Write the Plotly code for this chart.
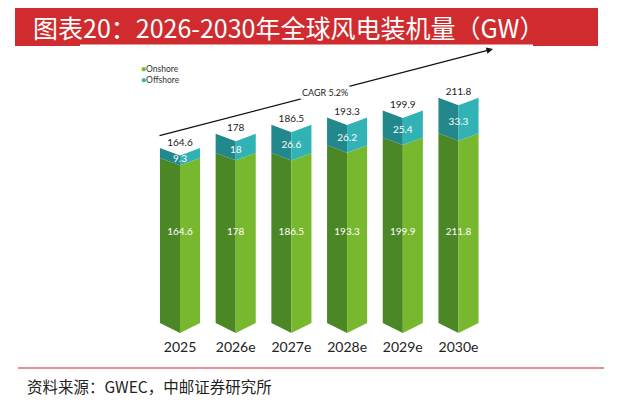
import plotly.graph_objects as go

# ---------------- data ----------------
years = ["2025", "2026e", "2027e", "2028e", "2029e", "2030e"]
total = [164.6, 178, 186.5, 193.3, 199.9, 211.8]
offshore = [9.3, 18, 26.6, 26.2, 25.4, 33.3]
onshore_label = [164.6, 178, 186.5, 193.3, 199.9, 211.8]
series_names = ["Onshore", "Offshore"]
cagr_text = "CAGR 5.2%"
title_text = "图表20：2026-2030年全球风电装机量（GW）"
source_text = "资料来源：GWEC，中邮证券研究所"

# ---------------- layout constants ----------------
WIN_W, WIN_H = 642, 405
OFF = 8                      # default page body margin
W, H = WIN_W - OFF, WIN_H - OFF
PX_PER_UNIT = 1.063
X0_PX, STEP_PX = 180, 55.7   # window pixels
BASE_PX = 323
PLOT_BOTTOM_PX = 337
HALF_W = 0.36
NOTCH_TOP = 7.0
NOTCH_BOT = 9.4

GREEN_D, GREEN_L = "#4c8726", "#77b82f"
TEAL_D, TEAL_L = "#22888b", "#31b3b5"
RED = "#d02b2e"
FONT_NUM = "Lato"
FONT_CJK = "Noto Sans CJK SC"

PLOT_H = PLOT_BOTTOM_PX - OFF


def pxx(px):
    return (px - OFF) / W


def pxy(py):
    return (PLOT_BOTTOM_PX - py) / PLOT_H


x_range = [(OFF - X0_PX) / STEP_PX, (WIN_W - X0_PX) / STEP_PX]
y_range = [(BASE_PX - PLOT_BOTTOM_PX) / PX_PER_UNIT, (BASE_PX - OFF) / PX_PER_UNIT]

fig = go.Figure()


def face(xs, ys, color):
    fig.add_trace(go.Scatter(x=xs, y=ys, mode="lines", fill="toself",
                             fillcolor=color, line=dict(width=0, color=color),
                             hoverinfo="skip", showlegend=False))


for i, (t, o) in enumerate(zip(total, offshore)):
    c = i
    on_top = t - o
    face([c - HALF_W, c, c, c - HALF_W, c - HALF_W],
         [0, -NOTCH_BOT, on_top - NOTCH_TOP, on_top, 0], GREEN_D)
    face([c, c + HALF_W, c + HALF_W, c, c],
         [-NOTCH_BOT, 0, on_top, on_top - NOTCH_TOP, -NOTCH_BOT], GREEN_L)
    face([c - HALF_W, c, c, c - HALF_W, c - HALF_W],
         [on_top, on_top - NOTCH_TOP, t - NOTCH_TOP, t, on_top], TEAL_D)
    face([c, c + HALF_W, c + HALF_W, c, c],
         [on_top - NOTCH_TOP, on_top, t, t - NOTCH_TOP, on_top - NOTCH_TOP], TEAL_L)

xs = list(range(len(years)))
fig.add_trace(go.Scatter(x=xs, y=[t + 4.6 for t in total], mode="text",
                         text=[f"{v:g}" for v in total],
                         textfont=dict(size=10, color="#1a1a1a", family=FONT_NUM),
                         hoverinfo="skip", showlegend=False))
fig.add_trace(go.Scatter(x=xs, y=[t - o / 2 - NOTCH_TOP * 0.9 for t, o in zip(total, offshore)],
                         mode="text", text=[f"{v:g}" for v in offshore],
                         textfont=dict(size=10, color="white", family=FONT_NUM),
                         hoverinfo="skip", showlegend=False))
fig.add_trace(go.Scatter(x=xs, y=[85] * len(xs), mode="text",
                         text=[f"{v:g}" for v in onshore_label],
                         textfont=dict(size=10, color="white", family=FONT_NUM),
                         hoverinfo="skip", showlegend=False))

shapes = [
    dict(type="rect", xref="paper", yref="paper", x0=pxx(15), x1=pxx(598),
         y0=pxy(46), y1=pxy(7), fillcolor=RED, line=dict(width=0), layer="above"),
    dict(type="rect", xref="paper", yref="paper", x0=pxx(80), x1=pxx(533),
         y0=pxy(46.5), y1=pxy(44.5), fillcolor="white", line=dict(width=0), layer="above"),
    dict(type="line", xref="paper", yref="paper", x0=pxx(18), x1=pxx(604),
         y0=pxy(368), y1=pxy(368), line=dict(color="#c0282b", width=1.2)),
]

annotations = [
    dict(xref="paper", yref="paper", x=pxx(31), y=pxy(27), xanchor="left", yanchor="middle",
         text=title_text, showarrow=False,
         font=dict(size=25, color="white", family=FONT_CJK)),
    dict(xref="paper", yref="paper", x=pxx(25), y=pxy(386), xanchor="left", yanchor="middle",
         text=source_text, showarrow=False,
         font=dict(size=15.5, color="#222222", family=FONT_CJK)),
    dict(xref="paper", yref="paper", x=pxx(493), y=pxy(49), ax=158 - 493, ay=136 - 49,
         axref="pixel", ayref="pixel", text="", showarrow=True, arrowhead=2,
         arrowsize=1, arrowwidth=1.3, arrowcolor="#111111"),
    dict(xref="paper", yref="paper", x=pxx(325), y=pxy(92), xanchor="center", yanchor="middle",
         text=cagr_text, showarrow=False, bgcolor="white", borderpad=1,
         font=dict(size=9, color="#1a1a1a", family=FONT_NUM)),
    dict(xref="paper", yref="paper", x=pxx(139), y=pxy(69), xanchor="left", yanchor="middle",
         text=f'<span style="color:{GREEN_L}">●</span>{series_names[0]}', showarrow=False,
         font=dict(size=8.5, color="#333333", family=FONT_NUM)),
    dict(xref="paper", yref="paper", x=pxx(139), y=pxy(80), xanchor="left", yanchor="middle",
         text=f'<span style="color:{TEAL_L}">●</span>{series_names[1]}', showarrow=False,
         font=dict(size=8.5, color="#333333", family=FONT_NUM)),
]

fig.update_layout(
    width=W, height=H,
    margin=dict(l=0, r=0, t=0, b=H - PLOT_H),
    paper_bgcolor="white", plot_bgcolor="white",
    xaxis=dict(range=x_range, tickvals=xs, ticktext=years, showgrid=False, zeroline=False,
               showline=False, ticks="", tickfont=dict(size=14, color="#222222", family=FONT_NUM),
               fixedrange=True, automargin=False),
    yaxis=dict(range=y_range, visible=False, fixedrange=True),
    shapes=shapes, annotations=annotations, showlegend=False,
)

fig.write_html("out.html")
